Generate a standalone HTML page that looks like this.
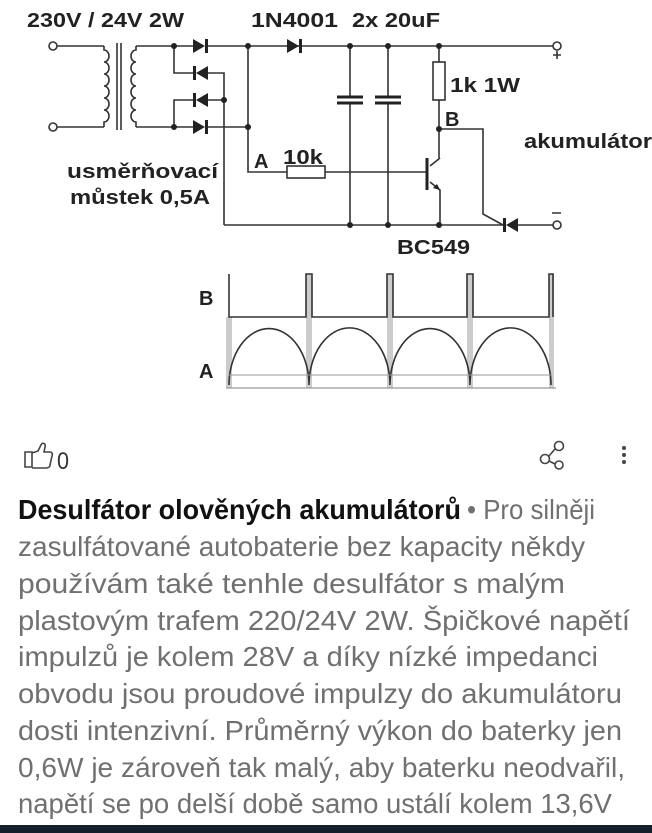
<!DOCTYPE html>
<html><head><meta charset="utf-8"><style>
html,body{margin:0;padding:0;background:#fff;}
svg{display:block}
</style></head><body>
<svg width="652" height="833" viewBox="0 0 652 833" xmlns="http://www.w3.org/2000/svg">
<rect width="652" height="833" fill="#fff"/>
<g font-family="Liberation Sans, sans-serif" font-weight="bold" fill="#222" font-size="20">
<text x="27" y="27" textLength="157" lengthAdjust="spacingAndGlyphs">230V / 24V 2W</text>
<text x="251" y="27" textLength="87" lengthAdjust="spacingAndGlyphs">1N4001</text>
<text x="352" y="27" textLength="88" lengthAdjust="spacingAndGlyphs">2x 20uF</text>
<text x="450" y="92" textLength="70" lengthAdjust="spacingAndGlyphs">1k 1W</text>
<text x="445" y="126">B</text>
<text x="524" y="148" textLength="128" lengthAdjust="spacingAndGlyphs">akumulátor</text>
<text x="67" y="178" textLength="151" lengthAdjust="spacingAndGlyphs">usměrňovací</text>
<text x="70" y="204" textLength="140" lengthAdjust="spacingAndGlyphs">můstek 0,5A</text>
<text x="254" y="168">A</text>
<text x="283" y="164" textLength="40" lengthAdjust="spacingAndGlyphs">10k</text>
<text x="397" y="254" textLength="73" lengthAdjust="spacingAndGlyphs">BC549</text>
<text x="199" y="305">B</text>
<text x="199" y="378">A</text>
</g>
<g stroke="#333" stroke-width="1.6" fill="none">
<circle cx="53" cy="46" r="4" fill="#fff"/>
<circle cx="53" cy="127" r="4" fill="#fff"/>
<path d="M57 46H104M57 127H104"/>
<path d="M104 46 v4 a5 6 0 0 1 0 12 a5 6 0 0 1 0 12 a5 6 0 0 1 0 12 a5 6 0 0 1 0 12 a5 6 0 0 1 0 12 a5 6 0 0 1 0 12 v5"/>
<path d="M117 43V130M121 43V130"/>
<path d="M136 46 v4 a5 6 0 0 0 0 12 a5 6 0 0 0 0 12 a5 6 0 0 0 0 12 a5 6 0 0 0 0 12 a5 6 0 0 0 0 12 a5 6 0 0 0 0 12 v5"/>
<path d="M136 46H193M136 127H193"/>
<path d="M174 46V73H195M174 127V100H195"/>
<path d="M207 46H557M207 127H248"/>
<path d="M208 73H224V225M208 100H224"/>
<path d="M248 46V172H287M325 172H427"/>
<path d="M224 225H503M517 225H553"/>
<path d="M350 46V97M350 103V225M388 46V97M388 103V225"/>
<path d="M439 46V62M439 100V158M440 158L430 166M430 182L440 190V225"/>
<path d="M439 129H483V214L503 225"/>
<rect x="287" y="166" width="38" height="12" fill="#fff"/>
<rect x="433" y="62" width="12" height="38" fill="#fff"/>
<circle cx="557" cy="46" r="4" fill="#fff"/>
<circle cx="557" cy="225" r="4" fill="#fff"/>
<path d="M553 55h8M557 51v8M552 213h9"/>
</g>
<g stroke="#222" stroke-width="3">
<path d="M337 97H363M337 103H363M375 97H401M375 103H401"/>
<path d="M427 158V190"/>
</g>
<g fill="#222">
<polygon points="193,39 193,53 205,46"/><rect x="205" y="39" width="3" height="14"/>
<polygon points="208,66 208,80 196,73"/><rect x="193" y="66" width="3" height="14"/>
<polygon points="208,93 208,107 196,100"/><rect x="193" y="93" width="3" height="14"/>
<polygon points="193,120 193,134 205,127"/><rect x="205" y="120" width="3" height="14"/>
<polygon points="287,39 287,53 299,46"/><rect x="299" y="39" width="3" height="14"/>
<polygon points="518,218 518,232 506,225"/><rect x="503" y="218" width="3" height="14"/>
<polygon points="440,190 433,188 437,184"/>
<circle cx="174" cy="46" r="3"/><circle cx="174" cy="127" r="3"/>
<circle cx="224" cy="100" r="3"/>
<circle cx="248" cy="46" r="3"/><circle cx="248" cy="127" r="3"/>
<circle cx="350" cy="46" r="3"/><circle cx="388" cy="46" r="3"/><circle cx="439" cy="46" r="3"/>
<circle cx="439" cy="129" r="3"/>
<circle cx="350" cy="225" r="3"/><circle cx="388" cy="225" r="3"/><circle cx="439" cy="225" r="3"/>
</g>
<g fill="#ccc" stroke="none">
<rect x="226" y="317" width="6" height="71"/>
<rect x="306" y="274" width="6" height="114"/>
<rect x="387" y="274" width="6" height="114"/>
<rect x="467" y="274" width="6" height="114"/>
<rect x="549" y="274" width="5" height="114"/>
</g>
<g stroke="#333" stroke-width="1.6" fill="none">
<path d="M229 274V317H306V274H312V317H387V274H393V317H467V274H473V317H549V274H553V317"/>
<path d="M229 385 A39 55 0 0 1 309 385 A39 55 0 0 1 390 385 A39 55 0 0 1 470 385 A39 55 0 0 1 551 385"/>
<path d="M229 375H552" stroke="#999" stroke-width="1"/>
<path d="M226 388H556" stroke="#999" stroke-width="1.2"/>
</g>
<g stroke="#444" stroke-width="1.6" fill="none">
<path d="M25 452h7v15h-7z"/>
<path d="M32 453l6-2 3-6c1-3 5-2 4 2l-1 5h6c2 0 3 2 2 4l-2 9c0 2-2 3-4 3h-14"/>
<circle cx="559" cy="446" r="4.5"/><circle cx="545" cy="459" r="4.5"/><circle cx="559" cy="465" r="4"/>
<path d="M549 456l6-7M549 461l6 3"/>
</g>
<text x="57" y="469" font-family="Liberation Sans, sans-serif" font-size="24" fill="#333" textLength="12" lengthAdjust="spacingAndGlyphs">0</text>
<g fill="#444"><circle cx="624" cy="448" r="2"/><circle cx="624" cy="455" r="2"/><circle cx="624" cy="462" r="2"/></g>
<g font-family="Liberation Sans, sans-serif" font-size="28" fill="#707070">
<text x="18" y="519" textLength="443" lengthAdjust="spacingAndGlyphs" fill="#111" font-weight="bold">Desulfátor olověných akumulátorů</text>
<text x="467" y="519" textLength="128" lengthAdjust="spacingAndGlyphs">• Pro silněji</text>
<text x="18" y="556" textLength="567" lengthAdjust="spacingAndGlyphs">zasulfátované autobaterie bez kapacity někdy</text>
<text x="18" y="593" textLength="547" lengthAdjust="spacingAndGlyphs">používám také tenhle desulfátor s malým</text>
<text x="18" y="630" textLength="612" lengthAdjust="spacingAndGlyphs">plastovým trafem 220/24V 2W. Špičkové napětí</text>
<text x="18" y="666" textLength="580" lengthAdjust="spacingAndGlyphs">impulzů je kolem 28V a díky nízké impedanci</text>
<text x="18" y="703" textLength="604" lengthAdjust="spacingAndGlyphs">obvodu jsou proudové impulzy do akumulátoru</text>
<text x="18" y="740" textLength="604" lengthAdjust="spacingAndGlyphs">dosti intenzivní. Průměrný výkon do baterky jen</text>
<text x="18" y="777" textLength="607" lengthAdjust="spacingAndGlyphs">0,6W je zároveň tak malý, aby baterku neodvařil,</text>
<text x="18" y="813" textLength="594" lengthAdjust="spacingAndGlyphs">napětí se po delší době samo ustálí kolem 13,6V</text>
</g>
<rect x="0" y="825" width="652" height="8" fill="#15202b"/>
</svg>
</body></html>
